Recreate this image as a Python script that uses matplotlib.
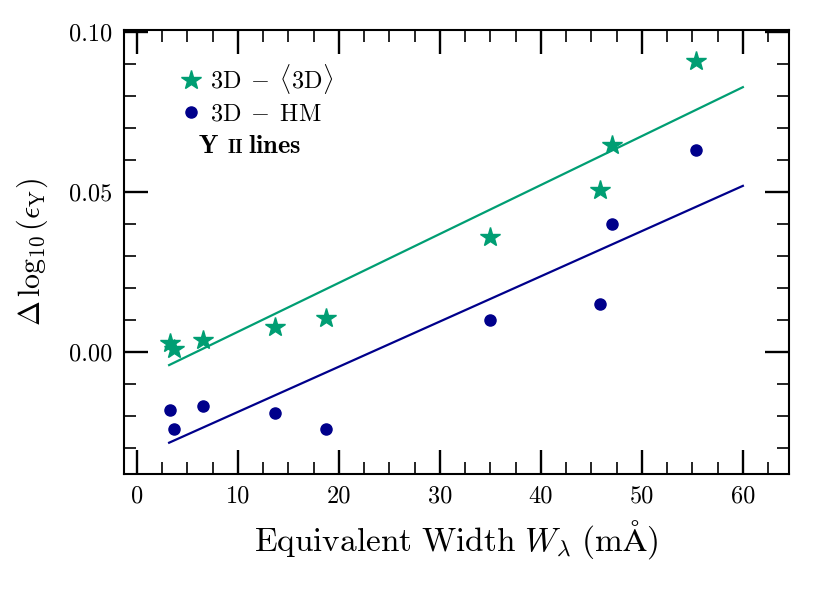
import numpy as np
import matplotlib
matplotlib.use("Agg")
import matplotlib.pyplot as plt
from matplotlib.ticker import MultipleLocator
from matplotlib.transforms import offset_copy

# equivalent widths (mA) of the Y II lines
ew = [3.3, 3.7, 6.6, 13.7, 18.7, 35.0, 45.9, 47.0, 55.4]
# 3D - <3D>
d_3d_mean = [0.0028, 0.0009, 0.0037, 0.0078, 0.0106, 0.0360, 0.0506, 0.0647, 0.0910]
# 3D - HM
d_3d_hm = [-0.0181, -0.0240, -0.0169, -0.0190, -0.0240, 0.0100, 0.0150, 0.0400, 0.0630]

# linear trends (slope, intercept)
fit_range = [3.2, 60.0]
fit_3d_mean = [0.00153, -0.0090]
fit_3d_hm = [0.001414, -0.0329]

verde = '#009E73'
azul = '#00008B'

plt.rcParams['font.family'] = 'serif'
plt.rcParams['font.serif'] = ['cmr10', 'DejaVu Serif']
plt.rcParams['mathtext.fontset'] = 'cm'
plt.rcParams['axes.formatter.use_mathtext'] = True

fig, ax = plt.subplots(figsize=(8.3, 5.93), dpi=100)
fig.subplots_adjust(left=0.149, right=0.951, top=0.949, bottom=0.201)

xs = np.array(fit_range)
ax.plot(xs, fit_3d_mean[0] * xs + fit_3d_mean[1], color=verde, lw=1.6)
ax.plot(xs, fit_3d_hm[0] * xs + fit_3d_hm[1], color=azul, lw=1.6)

ax.plot(ew, d_3d_mean, ls='none', marker='*', ms=15, color=verde,
        label=r'$\mathrm{3D}\;-\;\langle\mathrm{3D}\rangle$')
ax.plot(ew, d_3d_hm, ls='none', marker='o', ms=8, color=azul,
        label=r'$\mathrm{3D}\;-\;\mathrm{HM}$')

ax.set_xlim(-1.3, 64.6)
ax.set_ylim(-0.0381, 0.1006)

ax.xaxis.set_minor_locator(MultipleLocator(2.5))
ax.yaxis.set_minor_locator(MultipleLocator(0.01))
ax.set_xticks([0, 10, 20, 30, 40, 50, 60])
ax.set_xticklabels(['0', '10', '20', '30', '40', '50', '60'])
ax.set_yticks([0.0, 0.05, 0.10])
ax.set_yticklabels(['0.00', '0.05', '0.10'])

ax.tick_params(which='both', direction='in', top=True, right=True, labelsize=17.5)
ax.tick_params(which='major', length=17, width=1.7, pad=8)
ax.tick_params(which='minor', length=8.5, width=1.2)
for s in ax.spines.values():
    s.set_linewidth(1.5)

ax.set_xlabel(r'$\mathrm{Equivalent\ Width}\ W_\lambda\ (\mathrm{m\AA})$', fontsize=24, labelpad=8)
ax.set_ylabel(r'$\Delta\,\log_{10}(\epsilon_\mathrm{Y})$', fontsize=21.5, labelpad=14)

ax.legend(loc='upper left', frameon=False, fontsize=17.5, handletextpad=0.3,
          handlelength=1.0, borderaxespad=0.0, bbox_to_anchor=(0.068, 0.95),
          labelspacing=0.3)

# "Y II lines" with small caps numeral
ax.text(0.112, 0.723, r'$\mathbf{Y}$', transform=ax.transAxes, fontsize=18.5, va='baseline')
ax.text(0.112, 0.723, r'$\mathbf{II}$', fontsize=13.5, va='baseline',
        transform=offset_copy(ax.transAxes, fig=fig, x=21, y=0, units='points'))
ax.text(0.112, 0.723, r'$\mathbf{lines}$', fontsize=19, va='baseline',
        transform=offset_copy(ax.transAxes, fig=fig, x=36, y=0, units='points'))

fig.savefig('out.png', dpi=100)
